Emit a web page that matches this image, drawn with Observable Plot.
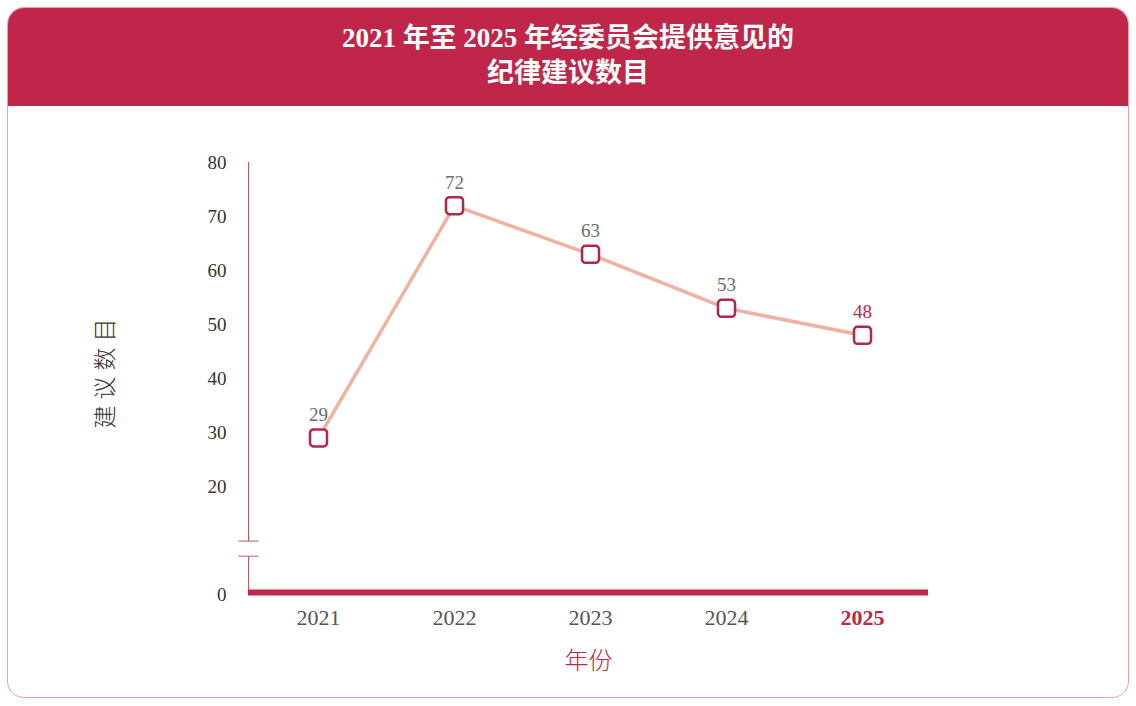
<!DOCTYPE html>
<html>
<head>
<meta charset="utf-8">
<script src="https://cdn.jsdelivr.net/npm/d3@7"></script>
<script src="https://cdn.jsdelivr.net/npm/@observablehq/plot@0.6"></script>
<style>
  html, body { margin: 0; padding: 0; background: #fff; }
  body { width: 1136px; height: 706px; position: relative; overflow: hidden; }
  .card {
    position: absolute; left: 7px; top: 7px; width: 1120px; height: 689px;
    border: 1px solid #eba3a3; border-radius: 17px; box-sizing: content-box;
    overflow: hidden; background: #fff;
  }
  .header {
    position: absolute; left: 0; top: 0; width: 100%; height: 98px;
    background: #c0264a; color: #fff; text-align: center;
    font-family: "Liberation Serif", "Noto Sans CJK SC", serif;
    font-weight: bold; font-size: 27px; line-height: 35px;
    padding-top: 13px; box-sizing: border-box;
  }
  #chart { position: absolute; left: 0; top: 0; }
  .ylab text { letter-spacing: 6px; }
</style>
</head>
<body>
<div class="card">
  <div class="header">2021 年至 2025 年经委员会提供意见的<br>纪律建议数目</div>
</div>
<div id="chart"></div>
<script>
const years = ["2021", "2022", "2023", "2024", "2025"];
const values = [29, 72, 63, 53, 48];
const yTicks = [0, 20, 30, 40, 50, 60, 70, 80];
const breakRange = [7, 9.8];
const yLabel = "建议数目";
const xLabel = "年份";
const highlightYear = "2025";

const crimson = "#c0264a";
const data = years.map((y, i) => ({year: y, value: values[i]}));

const roundedSquare = {
  draw(context, size) {
    const s = Math.sqrt(size) / 2, r = 3.5;
    context.moveTo(-s + r, -s);
    context.arcTo(s, -s, s, s, r);
    context.arcTo(s, s, -s, s, r);
    context.arcTo(-s, s, -s, -s, r);
    context.arcTo(-s, -s, s, -s, r);
    context.closePath();
  }
};

const yAxisLine = (index, scales, values, dims) => {
  const g = d3.create("svg:g");
  const x = dims.marginLeft + 0.5;
  const yTop = scales.y(80), yBot = scales.y(0);
  const yb1 = scales.y(breakRange[1]), yb0 = scales.y(breakRange[0]);
  const stroke = "#c9555f";
  g.append("line").attr("x1", x).attr("x2", x).attr("y1", yTop).attr("y2", yb1).attr("stroke", stroke);
  g.append("line").attr("x1", x).attr("x2", x).attr("y1", yb0).attr("y2", yBot).attr("stroke", stroke);
  for (const yy of [yb1, yb0]) {
    g.append("line").attr("x1", x - 10).attr("x2", x + 10).attr("y1", yy).attr("y2", yy).attr("stroke", stroke);
  }
  return g.node();
};

const serif = "Liberation Serif, serif";

const chart = Plot.plot({
  width: 1136,
  height: 706,
  marginLeft: 248,
  marginRight: 208,
  marginTop: 162,
  marginBottom: 112,
  style: {background: "transparent", fontFamily: serif},
  x: {type: "point", domain: years, padding: 0, range: [318, 862], axis: null},
  y: {domain: [0, 80], axis: null},
  marks: [
    yAxisLine,
    Plot.ruleY([0], {stroke: crimson, strokeWidth: 6, dy: -2}),
    Plot.line(data, {x: "year", y: "value", stroke: "#f0b1a2", strokeWidth: 3.5}),
    Plot.dot(data, {x: "year", y: "value", symbol: roundedSquare, r: 9.6, fill: "#fff", stroke: "#b3264a", strokeWidth: 2.5}),
    Plot.text(data, {x: "year", y: "value", text: d => String(d.value), dy: -23, fontSize: 19,
      fill: d => d.year === highlightYear ? crimson : "#6b6b6b", fontFamily: serif}),
    Plot.text(yTicks, {y: d => d, text: d => String(d), frameAnchor: "left", dx: -22, textAnchor: "end",
      fontSize: 19, fill: "#333", fontFamily: serif}),
    Plot.text(years.filter(y => y !== highlightYear), {x: d => d, text: d => d, frameAnchor: "bottom", dy: 30,
      fontSize: 22, fill: "#555", fontFamily: serif}),
    Plot.text([highlightYear], {x: d => d, text: d => d, frameAnchor: "bottom", dy: 30,
      fontSize: 22, fill: crimson, fontWeight: "bold", fontFamily: serif}),
    Plot.text([xLabel], {text: d => d, frameAnchor: "bottom", dy: 74, fontSize: 24, fill: crimson,
      fontFamily: "Noto Sans CJK SC", fontWeight: 300}),
    Plot.text([yLabel], {text: d => d, frameAnchor: "left", textAnchor: "middle", dx: -143, dy: -8, rotate: -90, fontSize: 23,
      fill: "#333", fontFamily: "Noto Sans CJK SC", fontWeight: 300, className: "ylab"})
  ]
});
document.getElementById("chart").appendChild(chart);
</script>
</body>
</html>
